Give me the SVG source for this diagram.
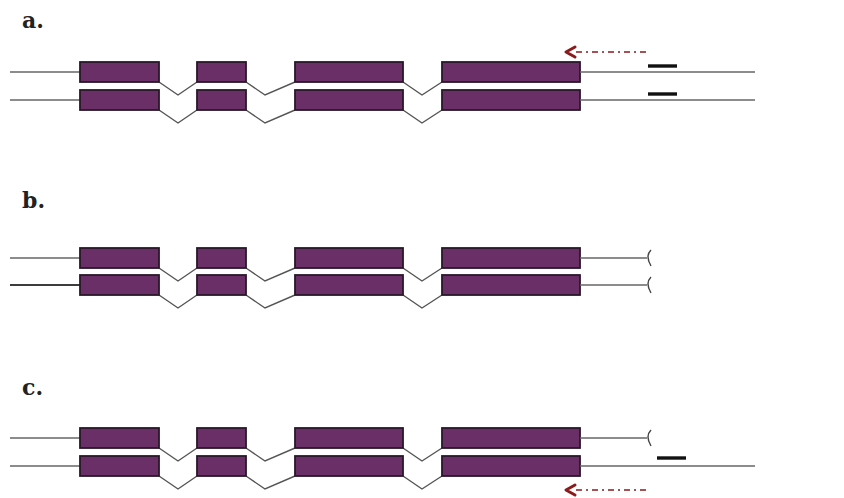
<svg xmlns="http://www.w3.org/2000/svg" width="844" height="498" viewBox="0 0 844 498">
  <defs>
    <style>
      .lbl { font-family: "DejaVu Serif", "Liberation Serif", serif; font-size: 22px; font-weight: bold; fill: #222; }
      .exon { fill: #6a2f66; stroke: #2a1828; stroke-width: 1.8; }
      .line { stroke: #666; stroke-width: 1.6; fill: none; }
      .dark { stroke: #222; }
      .intron { stroke: #555; stroke-width: 1.4; fill: none; }
      .probe { stroke: #111; stroke-width: 3.4; }
      .cap { stroke: #444; stroke-width: 1.4; fill: none; }
      .primer { stroke: #8b1a1a; stroke-width: 1.4; stroke-dasharray: 6 4 2 4; fill: none; }
      .tip { stroke: #8b1a1a; stroke-width: 3; fill: none; stroke-linecap: round; stroke-linejoin: round; }
    </style>
    <!-- one strand: 5' line, four exons, three introns; origin = top of exons -->
    <g id="strand">
      <line class="line" x1="10" y1="10" x2="80" y2="10"/>
      <polyline class="intron" points="159,20 178,33 197,20"/>
      <polyline class="intron" points="246,20 265,33 295,20"/>
      <polyline class="intron" points="403,20 422,33 442,20"/>
      <rect class="exon" x="80" y="0" width="79" height="20"/>
      <rect class="exon" x="197" y="0" width="49" height="20"/>
      <rect class="exon" x="295" y="0" width="108" height="20"/>
      <rect class="exon" x="442" y="0" width="138" height="20"/>
    </g>
    <g id="arrowLeft">
      <line class="primer" x1="576" y1="0" x2="648" y2="0"/>
      <polyline class="tip" points="575,-5 566,0 575,5"/>
    </g>
  </defs>

  <!-- panel a -->
  <text class="lbl" x="22" y="28">a.</text>
  <g id="a-top" transform="translate(0,62)">
    <use href="#strand"/>
    <line class="line" x1="580" y1="10" x2="755" y2="10"/>
    <line class="probe" x1="648" y1="4" x2="677" y2="4"/>
  </g>
  <g id="a-bottom" transform="translate(0,90)">
    <use href="#strand"/>
    <line class="line" x1="580" y1="10" x2="755" y2="10"/>
    <line class="probe" x1="648" y1="4" x2="677" y2="4"/>
  </g>
  <g id="a-primer" transform="translate(0,52)">
    <use href="#arrowLeft"/>
  </g>

  <!-- panel b -->
  <text class="lbl" x="22" y="208">b.</text>
  <g id="b-top" transform="translate(0,248)">
    <use href="#strand"/>
    <line class="line" x1="580" y1="10" x2="647" y2="10"/>
    <path class="cap" d="M651,2 Q645,8 651,18"/>
  </g>
  <g id="b-bottom" transform="translate(0,275)">
    <use href="#strand"/>
    <line class="line dark" x1="10" y1="10" x2="80" y2="10"/>
    <line class="line" x1="580" y1="10" x2="647" y2="10"/>
    <path class="cap" d="M651,2 Q645,8 651,18"/>
  </g>

  <!-- panel c -->
  <text class="lbl" x="22" y="395">c.</text>
  <g id="c-top" transform="translate(0,428)">
    <use href="#strand"/>
    <line class="line" x1="580" y1="10" x2="647" y2="10"/>
    <path class="cap" d="M651,2 Q645,8 651,18"/>
  </g>
  <g id="c-bottom" transform="translate(0,456)">
    <use href="#strand"/>
    <line class="line" x1="580" y1="10" x2="755" y2="10"/>
    <line class="probe" x1="657" y1="2" x2="686" y2="2"/>
  </g>
  <g id="c-primer" transform="translate(0,490)">
    <use href="#arrowLeft"/>
  </g>
</svg>
